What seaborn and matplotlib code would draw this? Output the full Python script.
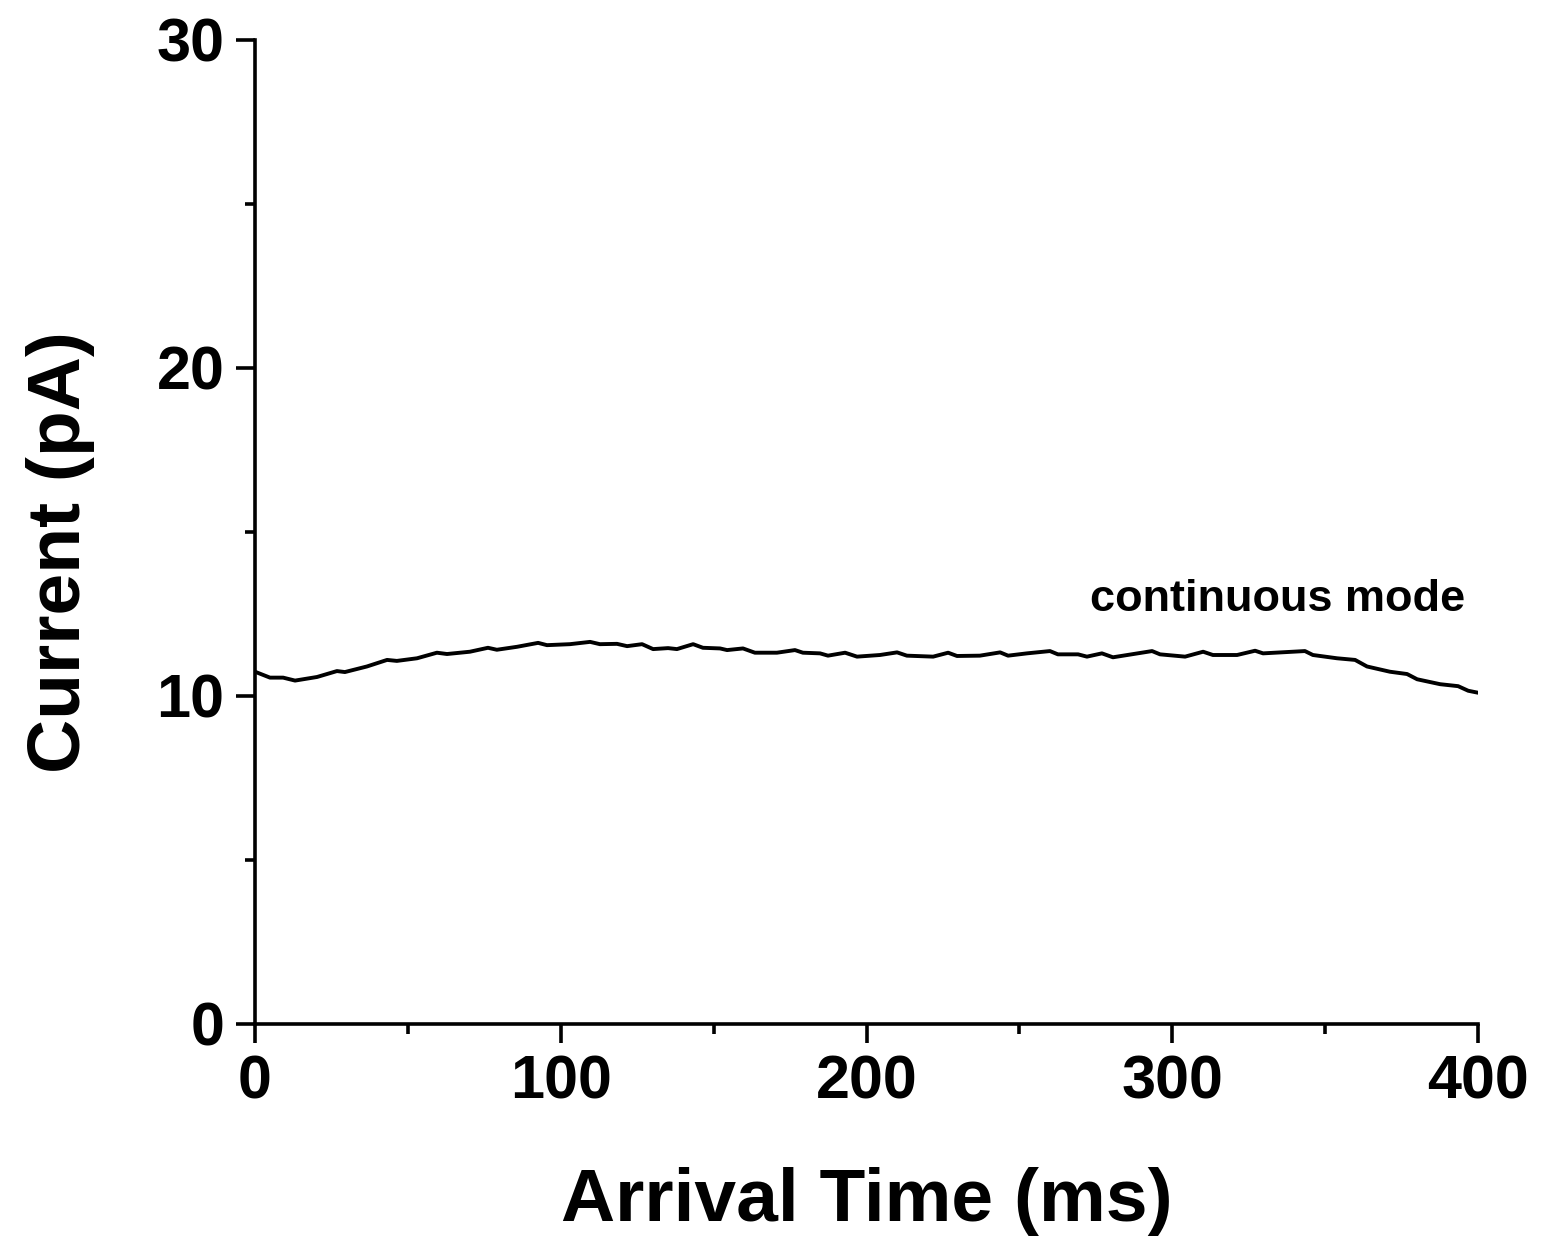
import matplotlib
matplotlib.use("Agg")
import matplotlib.pyplot as plt
import seaborn as sns
import pandas as pd
from matplotlib.ticker import MultipleLocator

time_ms = [0, 4.9, 9.2, 13.1, 20.3, 26.8, 29.4, 36.6, 43.2, 46.4, 53.0, 59.5, 62.8, 70.3,
           76.2, 79.1, 85.7, 92.6, 95.5, 103.0, 109.6, 112.8, 118.4, 121.7, 126.6, 130.2,
           135.1, 138.0, 143.3, 146.5, 152.1, 154.4, 159.6, 163.5, 170.7, 176.6, 179.2,
           184.8, 187.4, 193.0, 196.9, 204.4, 210.0, 213.2, 221.8, 226.7, 229.6, 237.1,
           243.7, 246.3, 252.5, 260.0, 262.6, 269.2, 272.1, 277.0, 280.6, 293.4, 296.0,
           304.2, 310.1, 313.3, 321.2, 327.1, 329.7, 343.4, 346.0, 353.9, 359.8, 363.7,
           371.2, 376.8, 380.1, 387.6, 393.5, 396.8, 400]
current_pA = [10.74, 10.56, 10.56, 10.47, 10.58, 10.76, 10.73, 10.90, 11.10, 11.07, 11.15,
              11.32, 11.28, 11.35, 11.47, 11.41, 11.50, 11.62, 11.55, 11.58, 11.65, 11.58,
              11.59, 11.52, 11.58, 11.43, 11.46, 11.43, 11.58, 11.47, 11.45, 11.40, 11.45,
              11.32, 11.32, 11.40, 11.32, 11.30, 11.23, 11.32, 11.20, 11.25, 11.33, 11.23,
              11.20, 11.32, 11.22, 11.23, 11.33, 11.23, 11.30, 11.37, 11.27, 11.27, 11.20,
              11.30, 11.18, 11.37, 11.27, 11.20, 11.35, 11.25, 11.25, 11.38, 11.30, 11.37,
              11.25, 11.15, 11.10, 10.90, 10.74, 10.67, 10.51, 10.36, 10.30, 10.16, 10.10]

x_ticks = [0, 100, 200, 300, 400]
y_ticks = [0, 10, 20, 30]
annotation = "continuous mode"

sns.set_style("ticks")
plt.rcParams['font.family'] = ['Liberation Sans', 'DejaVu Sans']
plt.rcParams['font.weight'] = 'bold'
plt.rcParams['text.color'] = 'black'
plt.rcParams['axes.labelcolor'] = 'black'
plt.rcParams['xtick.color'] = 'black'
plt.rcParams['ytick.color'] = 'black'

df = pd.DataFrame({"t": time_ms, "I": current_pA})

fig = plt.figure(figsize=(15.41, 12.41), dpi=100)
ax = fig.add_axes([255/1541, 1 - 1024/1241, (1478-255)/1541, (1024-40)/1241])
sns.lineplot(data=df, x="t", y="I", ax=ax, color="black", linewidth=2.8)

ax.set_xlim(0, 400)
ax.set_ylim(0, 30)
ax.set_xticks(x_ticks)
ax.set_yticks(y_ticks)
ax.xaxis.set_minor_locator(MultipleLocator(50))
ax.yaxis.set_minor_locator(MultipleLocator(5))
sns.despine(ax=ax)
for s in ["left", "bottom"]:
    ax.spines[s].set_linewidth(2.6)
    ax.spines[s].set_color("black")
ax.tick_params(axis="both", which="major", length=14, width=2.6, labelsize=44, pad=8,
               color="black", labelcolor="black")
ax.tick_params(axis="both", which="minor", length=7, width=2.6, color="black")
for lab in ax.get_xticklabels() + ax.get_yticklabels():
    lab.set_fontweight("bold")

ax.set_xlabel("Arrival Time (ms)", fontsize=54, fontweight="bold", labelpad=40, color="black")
ax.set_ylabel("Current (pA)", fontsize=54, fontweight="bold", labelpad=44, color="black")
ax.yaxis.label.set_y(0.48)
ax.text(273, 12.93, annotation, fontsize=32.5, fontweight="bold", ha="left", va="center",
        color="black")

fig.savefig("out.png", dpi=100)
